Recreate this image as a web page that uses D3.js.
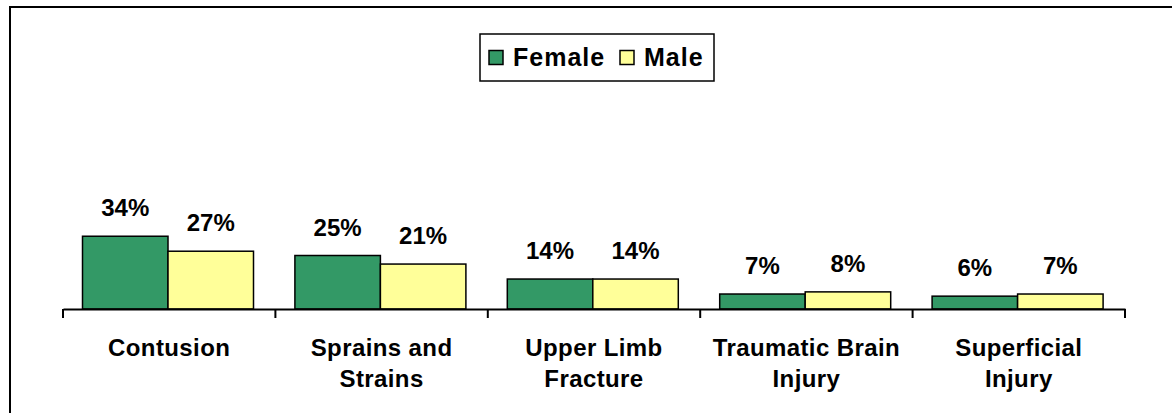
<!DOCTYPE html>
<html>
<head>
<meta charset="utf-8">
<script src="https://cdn.jsdelivr.net/npm/d3@7"></script>
<style>
  body { margin: 0; background: #fff; }
  text { font-family: "Liberation Sans", Arial, sans-serif; font-weight: bold; fill: #000; }
</style>
</head>
<body>
<div id="chart"></div>
<script>
const categories = [["Contusion"], ["Sprains and", "Strains"], ["Upper Limb", "Fracture"], ["Traumatic Brain", "Injury"], ["Superficial", "Injury"]];
const series = ["Female", "Male"];
const female = [34, 25, 14, 7, 6];
const male = [27, 21, 14, 8, 7];
const colors = ["#339966", "#FFFF99"];

const width = 1172, height = 413;
const svg = d3.select("#chart").append("svg")
    .attr("width", width)
    .attr("height", height);

// outer frame (only left and top edges fall inside the picture)
svg.append("rect")
    .attr("x", 10).attr("y", 7)
    .attr("width", 1250).attr("height", 500)
    .attr("fill", "none")
    .attr("stroke", "#000")
    .attr("stroke-width", 2);

const keys = categories.map(c => c.join(" "));
const x0 = d3.scaleBand().domain(keys).range([63, 1125]);
const x1 = d3.scaleBand().domain(series).range([19.5, 190.5]);
const y = d3.scaleLinear().domain([0, 100]).range([309, 95]);

const rows = keys.map((k, i) => ({ key: k, lines: categories[i], values: [female[i], male[i]] }));

const groups = svg.selectAll(".group")
    .data(rows)
    .enter().append("g")
    .attr("class", "group")
    .attr("transform", d => `translate(${x0(d.key)},0)`);

groups.selectAll("rect")
    .data(d => d.values.map((v, j) => ({ s: series[j], v: v, j: j })))
    .enter().append("rect")
    .attr("x", d => x1(d.s))
    .attr("y", d => y(d.v))
    .attr("width", x1.bandwidth())
    .attr("height", d => y(0) - y(d.v))
    .attr("fill", d => colors[d.j])
    .attr("stroke", "#000")
    .attr("stroke-width", 1.5);

groups.selectAll(".val")
    .data(d => d.values.map((v, j) => ({ s: series[j], v: v })))
    .enter().append("text")
    .attr("class", "val")
    .attr("x", d => x1(d.s) + x1.bandwidth() / 2)
    .attr("y", d => y(d.v) - 20)
    .attr("text-anchor", "middle")
    .style("font-size", "24px")
    .text(d => d.v + "%");

// x axis
const axis = svg.append("g")
    .attr("transform", `translate(0,${y(0)})`)
    .call(d3.axisBottom(x0).tickSize(0).tickFormat(""));
axis.select(".domain").attr("stroke", "#000").attr("stroke-width", 2);

svg.selectAll(".tick-mark")
    .data(keys.concat(["end"]))
    .enter().append("line")
    .attr("class", "tick-mark")
    .attr("x1", (d, i) => i < keys.length ? x0(d) : x0.range()[1])
    .attr("x2", (d, i) => i < keys.length ? x0(d) : x0.range()[1])
    .attr("y1", y(0))
    .attr("y2", y(0) + 9)
    .attr("stroke", "#000")
    .attr("stroke-width", 2);

// category labels
groups.each(function (d) {
    const t = d3.select(this).append("text")
        .attr("text-anchor", "middle")
        .style("font-size", "24px")
        .style("letter-spacing", "0.4px");
    d.lines.forEach((line, i) => {
        t.append("tspan")
            .attr("x", x0.bandwidth() / 2)
            .attr("y", 356 + i * 31)
            .text(line);
    });
});

// legend
const legend = svg.append("g");
legend.append("rect")
    .attr("x", 480).attr("y", 34)
    .attr("width", 234).attr("height", 47)
    .attr("fill", "#fff")
    .attr("stroke", "#000")
    .attr("stroke-width", 1.5);

const legendX = [489, 620];
series.forEach((s, i) => {
    legend.append("rect")
        .attr("x", legendX[i]).attr("y", 50.5)
        .attr("width", 14).attr("height", 14)
        .attr("fill", colors[i])
        .attr("stroke", "#000")
        .attr("stroke-width", 1.5);
    legend.append("text")
        .attr("x", legendX[i] + 24)
        .attr("y", 66)
        .style("font-size", "25px")
        .style("letter-spacing", "1px")
        .text(s);
});
</script>
</body>
</html>
